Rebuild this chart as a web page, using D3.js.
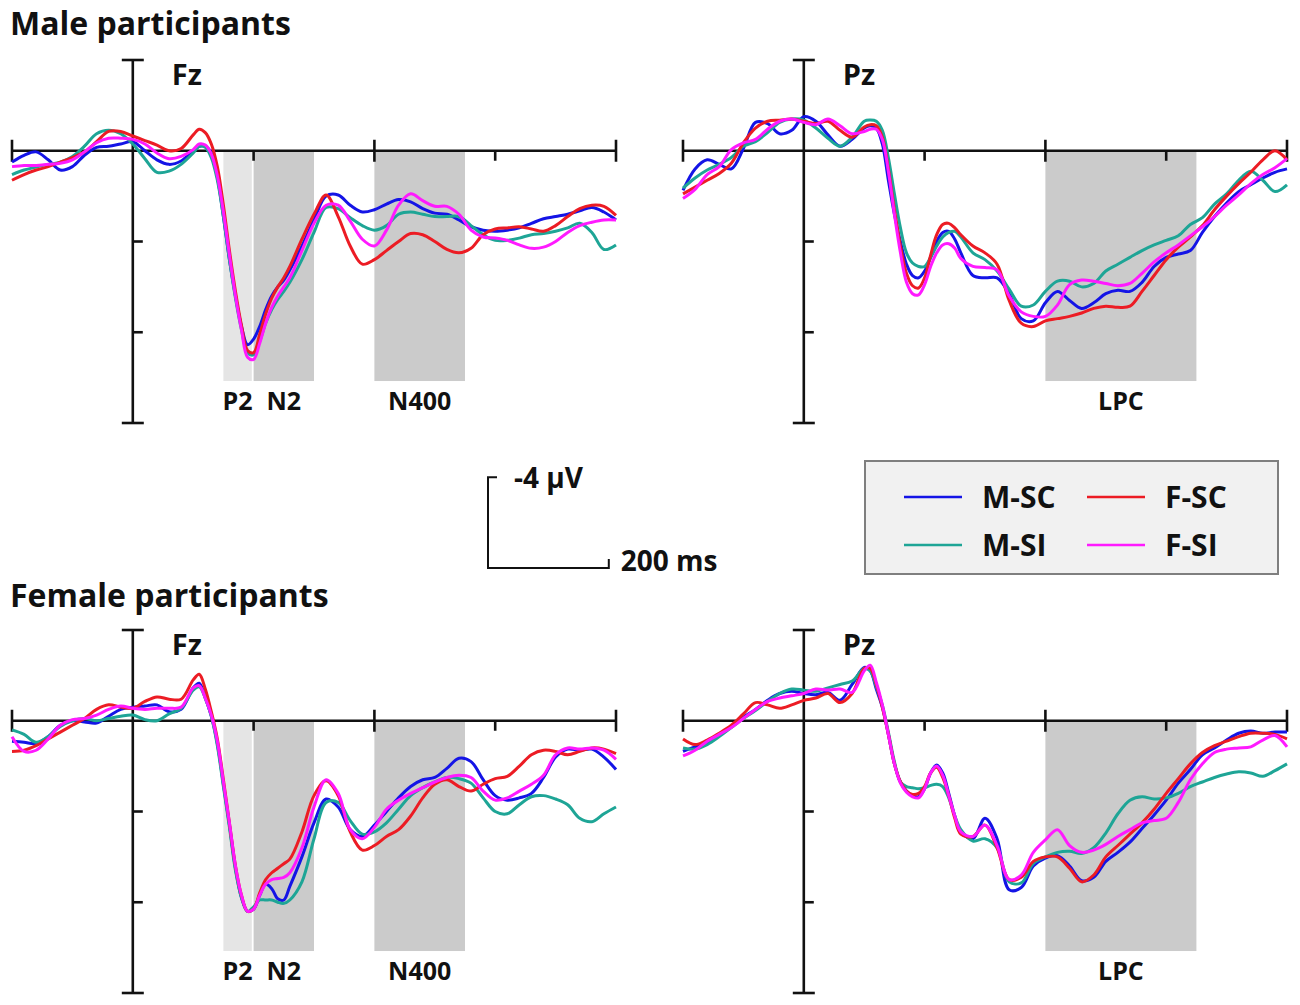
<!DOCTYPE html>
<html>
<head>
<meta charset="utf-8">
<script src="https://cdn.jsdelivr.net/npm/d3@7"></script>
<style>
  body { margin: 0; background: #fff; }
  svg text { font-family: "Open Sans", sans-serif; font-weight: 700; fill: #111; }
</style>
</head>
<body>
<svg width="1300" height="1005"></svg>
<script>
// sample times (ms) shared by every waveform
const times = [-200, -180, -160, -140, -120, -100, -80, -60, -40, -20, 0, 20, 40, 60, 80, 100,
  110, 120, 130, 140, 150, 160, 170, 180, 190, 200, 210, 220, 230, 240, 250,
  260, 280, 300, 320, 340, 360, 380, 400, 420, 440, 460, 480, 500, 520, 540, 560, 580,
  600, 620, 640, 660, 680, 700, 720, 740, 760, 780, 800];

// amplitudes in microvolts (negative plotted up)
const maleFzMSC = [0.5, 0.2, 0.05, 0.4, 0.85, 0.7, 0.2, -0.15, -0.2, -0.3, -0.4, 0, 0.4, 0.6, 0.45, 0.0,
  -0.2, -0.2, 0.1, 1.15, 2.9, 4.8, 6.4, 7.75, 8.55, 8.3, 7.75, 7.0, 6.4, 6.0, 5.7,
  5.25, 4.2, 3.05, 2.0, 1.95, 2.4, 2.7, 2.6, 2.35, 2.15, 2.25, 2.55, 2.75, 2.8, 3.05, 3.35, 3.5,
  3.55, 3.5, 3.4, 3.2, 3.0, 2.9, 2.8, 2.65, 2.5, 2.7, 3.05];
const maleFzMSI = [1.05, 0.85, 0.72, 0.6, 0.5, 0.25, -0.2, -0.75, -0.9, -0.75, -0.3, 0.35, 0.95, 0.9, 0.6, 0.1,
  -0.2, -0.15, 0.3, 1.3, 2.9, 4.8, 6.5, 7.9, 8.9, 9.0, 8.4, 7.6, 7.0, 6.55, 6.2,
  5.8, 4.8, 3.6, 2.5, 2.55, 2.95, 3.3, 3.5, 3.3, 2.8, 2.7, 2.8, 2.9, 2.9, 2.9, 3.3, 3.7,
  3.95, 3.95, 3.85, 3.7, 3.65, 3.55, 3.4, 3.2, 3.6, 4.35, 4.15];
const maleFzFSC = [1.3, 1.05, 0.85, 0.7, 0.5, 0.3, 0.05, -0.4, -0.85, -0.85, -0.65, -0.45, -0.25, 0.0, -0.1, -0.7,
  -0.95, -0.8, -0.3, 0.7, 2.4, 4.4, 6.2, 7.7, 8.8, 8.9, 8.1, 7.2, 6.5, 6.0, 5.6,
  5.1, 3.9, 2.8, 1.95, 2.9, 4.2, 5.0, 4.8, 4.4, 4.0, 3.65, 3.7, 4.0, 4.35, 4.5, 4.3, 3.7,
  3.45, 3.4, 3.35, 3.45, 3.55, 3.3, 2.9, 2.55, 2.4, 2.45, 2.85];
const maleFzFSI = [0.7, 0.65, 0.65, 0.6, 0.55, 0.4, 0.05, -0.35, -0.55, -0.55, -0.5, -0.3, 0.1, 0.35, 0.25, -0.05,
  -0.3, -0.25, 0.15, 1.1, 2.7, 4.6, 6.4, 7.9, 9.1, 9.2, 8.5, 7.6, 6.9, 6.4, 6.0,
  5.6, 4.4, 3.2, 2.4, 2.4, 3.1, 3.9, 4.2, 3.5, 2.4, 1.9, 2.2, 2.45, 2.45, 2.8, 3.5, 3.8,
  3.85, 3.95, 4.15, 4.3, 4.25, 4.0, 3.6, 3.3, 3.15, 3.05, 3.05];

const malePzMSC = [1.75, 0.8, 0.4, 0.6, 0.8, -0.1, -1.25, -1.2, -0.75, -0.9, -1.5, -1.3, -0.7, -0.2, -0.5, -1.0,
  -1.1, -1.0, -0.3, 1.3, 2.8, 4.0, 5.0, 5.5, 5.6, 5.3, 4.7, 4.0, 3.6, 3.55, 3.9,
  4.5, 5.5, 5.6, 5.6, 6.3, 7.4, 7.5, 6.7, 6.2, 6.6, 6.95, 6.7, 6.3, 6.15, 6.2, 5.8, 5.1,
  4.7, 4.55, 4.4, 3.6, 2.9, 2.3, 1.8, 1.5, 1.2, 0.95, 0.8];
const malePzMSI = [1.65, 1.2, 0.85, 0.6, 0.3, -0.2, -0.4, -0.8, -1.25, -1.4, -1.35, -1.0, -0.55, -0.2, -0.6, -1.3,
  -1.35, -1.3, -0.9, 0.3, 1.9, 3.4, 4.5, 4.95, 5.1, 5.1, 4.7, 4.2, 3.8, 3.6, 3.55,
  3.8, 4.5, 4.8, 5.3, 6.1, 6.85, 6.8, 6.2, 5.75, 5.75, 6.0, 5.85, 5.3, 5.0, 4.7, 4.4, 4.15,
  3.95, 3.75, 3.25, 2.95, 2.35, 1.9, 1.3, 0.9, 1.3, 1.8, 1.5];
const malePzFSC = [1.9, 1.6, 1.3, 1.0, 0.55, -0.35, -1.0, -1.3, -1.35, -1.4, -1.3, -1.2, -1.3, -0.9, -0.6, -1.05,
  -1.15, -1.1, -0.6, 0.8, 2.6, 4.2, 5.4, 5.95, 6.05, 5.6, 4.6, 3.7, 3.25, 3.2, 3.4,
  3.7, 4.2, 4.5, 5.0, 6.6, 7.6, 7.75, 7.5, 7.4, 7.3, 7.15, 6.95, 6.85, 6.9, 6.85, 6.2, 5.5,
  4.8, 4.25, 3.8, 3.3, 2.6, 2.0, 1.45, 0.95, 0.4, 0.0, 0.4];
const malePzFSI = [2.1, 1.7, 1.05, 0.7, -0.05, -0.35, -0.5, -0.95, -1.3, -1.4, -1.25, -1.15, -1.4, -1.1, -0.75, -0.85,
  -0.95, -0.95, -0.5, 0.9, 2.8, 4.5, 5.8, 6.3, 6.35, 5.9, 5.1, 4.5, 4.15, 4.1, 4.3,
  4.75, 5.1, 5.15, 5.25, 6.4, 7.1, 7.3, 7.3, 6.8, 5.9, 5.7, 5.75, 5.85, 5.95, 5.85, 5.4, 4.9,
  4.5, 4.15, 3.75, 3.35, 2.9, 2.4, 1.95, 1.45, 1.05, 0.75, 0.35];

const femaleFzMSC = [0.9, 0.95, 1.0, 0.7, 0.2, 0.0, 0.05, 0.1, -0.2, -0.5, -0.6, -0.65, -0.7, -0.4, -0.5, -1.45,
  -1.65, -1.0, -0.2, 1.0, 2.8, 4.6, 6.5, 7.8, 8.4, 8.3, 7.7, 7.2, 7.4, 7.85, 7.9,
  7.3, 6.0, 4.5, 3.45, 3.8, 4.8, 5.1, 4.6, 4.0, 3.4, 2.9, 2.6, 2.5, 2.1, 1.65, 1.8, 2.6,
  3.3, 3.5, 3.4, 3.2, 2.5, 1.6, 1.25, 1.3, 1.25, 1.6, 2.15];
const femaleFzMSI = [0.4, 0.6, 0.95, 0.7, 0.25, 0.0, -0.1, 0.0, -0.1, -0.2, -0.25, -0.05, 0.0, -0.3, -0.55, -1.35,
  -1.5, -1.0, -0.2, 1.1, 2.9, 4.7, 6.6, 7.8, 8.4, 8.2, 7.9, 7.9, 7.9, 8.0, 8.05,
  7.9, 7.1, 5.2, 3.6, 3.6, 4.4, 5.0, 4.9, 4.5, 3.9, 3.3, 2.95, 2.7, 2.5, 2.55, 2.75, 3.4,
  4.0, 4.1, 3.7, 3.35, 3.3, 3.45, 3.7, 4.3, 4.45, 4.1, 3.8];
const femaleFzFSC = [1.35, 1.3, 1.1, 0.8, 0.5, 0.2, -0.1, -0.5, -0.7, -0.6, -0.55, -0.85, -1.05, -0.95, -0.95, -1.8,
  -2.05, -1.4, -0.4, 0.8, 2.6, 4.5, 6.4, 7.7, 8.4, 8.3, 7.6, 7.0, 6.7, 6.5, 6.3,
  6.1, 4.9, 3.3, 2.65, 3.3, 4.9, 5.7, 5.5, 5.1, 4.8, 4.2, 3.4, 2.8, 2.6, 2.9, 3.1, 2.8,
  2.55, 2.45, 2.0, 1.5, 1.3, 1.35, 1.5, 1.35, 1.2, 1.25, 1.45];
const femaleFzFSI = [0.7, 1.35, 1.3, 0.8, 0.2, -0.05, -0.1, -0.25, -0.5, -0.65, -0.55, -0.5, -0.55, -0.55, -0.6, -1.45,
  -1.55, -1.0, -0.25, 0.9, 2.7, 4.5, 6.4, 7.7, 8.4, 8.3, 7.7, 7.2, 7.0, 6.95, 6.9,
  6.7, 5.6, 3.8, 2.6, 3.2, 4.8, 5.2, 4.7, 3.9, 3.5, 3.2, 2.95, 2.7, 2.5, 2.4, 2.5, 3.1,
  3.5, 3.4, 3.1, 2.8, 2.4, 1.5, 1.2, 1.25, 1.2, 1.3, 1.7];

const femalePzMSC = [1.35, 1.15, 1.0, 0.65, 0.25, -0.15, -0.5, -0.9, -1.2, -1.3, -1.2, -1.15, -1.25, -0.9, -1.6, -2.35,
  -2.2, -1.4, -0.6, 0.6, 1.9, 2.7, 3.1, 3.3, 3.35, 3.0, 2.3, 1.95, 2.3, 3.2, 4.2,
  4.9, 5.2, 4.3, 5.2, 7.45, 7.35, 6.4, 6.05, 5.95, 6.4, 7.05, 6.9, 6.2, 5.8, 5.35, 4.75, 4.15,
  3.5, 2.75, 2.15, 1.5, 1.2, 0.85, 0.55, 0.45, 0.55, 0.5, 0.5];
const femalePzMSI = [1.2, 1.25, 1.05, 0.7, 0.3, -0.1, -0.45, -0.85, -1.2, -1.4, -1.35, -1.3, -1.45, -1.6, -1.75, -2.3,
  -2.2, -1.5, -0.7, 0.5, 1.8, 2.7, 2.9, 2.95, 3.0, 2.95, 2.85, 2.8, 2.9, 3.4, 4.2,
  4.8, 5.3, 5.2, 5.6, 7.1, 7.15, 6.3, 6.0, 5.8, 5.75, 5.85, 5.6, 4.95, 4.1, 3.5, 3.35, 3.45,
  3.4, 3.2, 2.9, 2.7, 2.5, 2.35, 2.25, 2.3, 2.45, 2.2, 1.9];
const femalePzFSC = [0.8, 1.05, 0.85, 0.55, 0.2, -0.3, -0.8, -0.7, -0.55, -0.7, -0.9, -1.0, -1.2, -0.8, -1.2, -2.3,
  -2.3, -1.6, -0.6, 0.6, 1.9, 2.7, 3.1, 3.25, 3.2, 2.9, 2.3, 2.05, 2.5, 3.3, 4.3,
  5.0, 5.1, 4.6, 5.6, 7.0, 6.9, 6.2, 6.0, 6.0, 6.5, 7.1, 6.8, 6.0, 5.5, 5.0, 4.5, 3.9,
  3.2, 2.55, 1.9, 1.4, 1.1, 0.9, 0.7, 0.55, 0.55, 0.6, 0.8];
const femalePzFSI = [1.55, 1.3, 0.9, 0.6, 0.3, -0.1, -0.5, -0.85, -1.0, -1.1, -1.2, -1.4, -1.35, -1.4, -1.25, -2.2,
  -2.45, -1.7, -0.7, 0.6, 1.9, 2.75, 3.15, 3.35, 3.4, 3.0, 2.3, 2.0, 2.4, 3.3, 4.2,
  4.9, 5.1, 4.6, 5.5, 7.0, 6.8, 5.8, 5.25, 4.8, 5.5, 5.8, 5.7, 5.45, 5.1, 4.8, 4.5, 4.4,
  4.3, 3.6, 2.6, 1.9, 1.4, 1.25, 1.2, 1.15, 0.85, 0.65, 1.15];

const seriesNames = ['M-SC', 'M-SI', 'F-SC', 'F-SI'];
const seriesColors = ['#1414e6', '#1ea596', '#ec1c24', '#ff1aff'];

const fzWindows = [
  { label: 'P2', from: 150, to: 197, fill: '#e5e5e5' },
  { label: 'N2', from: 200, to: 300, fill: '#cbcbcb' },
  { label: 'N400', from: 400, to: 550, fill: '#cbcbcb' }
];
const pzWindows = [
  { label: 'LPC', from: 400, to: 650, fill: '#cbcbcb' }
];

const svg = d3.select('svg');

const panels = [
  { title: 'Fz', left: 12, top: 60, windows: fzWindows, data: [maleFzMSC, maleFzMSI, maleFzFSC, maleFzFSI] },
  { title: 'Pz', left: 683, top: 60, windows: pzWindows, data: [malePzMSC, malePzMSI, malePzFSC, malePzFSI] },
  { title: 'Fz', left: 12, top: 630, windows: fzWindows, data: [femaleFzMSC, femaleFzMSI, femaleFzFSC, femaleFzFSI] },
  { title: 'Pz', left: 683, top: 630, windows: pzWindows, data: [femalePzMSC, femalePzMSI, femalePzFSC, femalePzFSI] }
];

const PANEL_W = 604;
const PANEL_H = 363;

let xRef, yRef;

panels.forEach(p => {
  const x = d3.scaleLinear().domain([-200, 800]).range([p.left, p.left + PANEL_W]);
  const y = d3.scaleLinear().domain([-4, 12]).range([p.top, p.top + PANEL_H]);
  if (!xRef) { xRef = x; yRef = y; }
  const g = svg.append('g');

  // component windows
  g.selectAll('rect.win')
    .data(p.windows)
    .enter()
    .append('rect')
    .attr('x', d => x(d.from))
    .attr('width', d => x(d.to) - x(d.from))
    .attr('y', y(0) + 1)
    .attr('height', y(10.15) - y(0) - 1)
    .attr('fill', d => d.fill);

  g.selectAll('text.win')
    .data(p.windows)
    .enter()
    .append('text')
    .text(d => d.label)
    .attr('x', d => x((d.from + d.to) / 2))
    .attr('y', y(10.15) + 29)
    .attr('text-anchor', 'middle')
    .style('font-size', '25px');

  // axes
  const ax = g.append('g').attr('stroke', '#111').attr('stroke-width', 2.6).attr('fill', 'none');
  ax.append('line').attr('x1', x(-200)).attr('x2', x(800)).attr('y1', y(0)).attr('y2', y(0));
  ax.append('line').attr('x1', x(0)).attr('x2', x(0)).attr('y1', y(-4)).attr('y2', y(12));
  [-200, 400, 800].forEach(t => {
    ax.append('line').attr('x1', x(t)).attr('x2', x(t)).attr('y1', y(0) - 11).attr('y2', y(0) + 11);
  });
  [200, 600].forEach(t => {
    ax.append('line').attr('x1', x(t)).attr('x2', x(t)).attr('y1', y(0)).attr('y2', y(0) + 10);
  });
  [-4, 12].forEach(v => {
    ax.append('line').attr('x1', x(0) - 11).attr('x2', x(0) + 11).attr('y1', y(v)).attr('y2', y(v));
  });
  [4, 8].forEach(v => {
    ax.append('line').attr('x1', x(0)).attr('x2', x(0) + 10).attr('y1', y(v)).attr('y2', y(v));
  });

  g.append('text')
    .text(p.title)
    .attr('x', x(0) + 39)
    .attr('y', y(-4) + 25)
    .style('font-size', '29px');

  const line = d3.line()
    .x((v, i) => x(times[i]))
    .y(v => y(v))
    .curve(d3.curveCatmullRom.alpha(0.5));

  g.selectAll('path.wave')
    .data(p.data)
    .enter()
    .append('path')
    .attr('d', d => line(d))
    .attr('fill', 'none')
    .attr('stroke', (d, i) => seriesColors[i])
    .attr('stroke-width', 3)
    .attr('stroke-linejoin', 'round');
});

svg.append('text').text('Male participants').attr('x', 10).attr('y', 35).style('font-size', '32px');
svg.append('text').text('Female participants').attr('x', 10).attr('y', 607).style('font-size', '32px');

// scale bar
const barX = 488, barY = 568;
const msLen = xRef(200) - xRef(0);
const uvLen = yRef(4) - yRef(0);
const bar = svg.append('g').attr('stroke', '#111').attr('stroke-width', 2).attr('fill', 'none');
bar.append('path').attr('d', `M${barX + 9},${barY - uvLen}H${barX}V${barY}H${barX + msLen}V${barY - 9}`);
svg.append('text').text('-4 µV').attr('x', barX + 26).attr('y', barY - uvLen + 11).style('font-size', '28px');
svg.append('text').text('200 ms').attr('x', barX + msLen + 12).attr('y', barY + 3).style('font-size', '28px');

// legend
const legend = svg.append('g');
legend.append('rect')
  .attr('x', 865).attr('y', 461).attr('width', 413).attr('height', 113)
  .attr('fill', '#f1f1f1').attr('stroke', '#7f7f7f').attr('stroke-width', 2);

const legendPos = [[904, 497], [904, 545], [1087, 497], [1087, 545]];
const items = legend.selectAll('g.item')
  .data(seriesNames)
  .enter()
  .append('g')
  .attr('transform', (d, i) => `translate(${legendPos[i][0]},${legendPos[i][1]})`);
items.append('line')
  .attr('x1', 0).attr('x2', 58).attr('y1', 0).attr('y2', 0)
  .attr('stroke', (d, i) => seriesColors[i]).attr('stroke-width', 2.5);
items.append('text')
  .text(d => d)
  .attr('x', 78).attr('y', 11)
  .style('font-size', '30px');
</script>
</body>
</html>
